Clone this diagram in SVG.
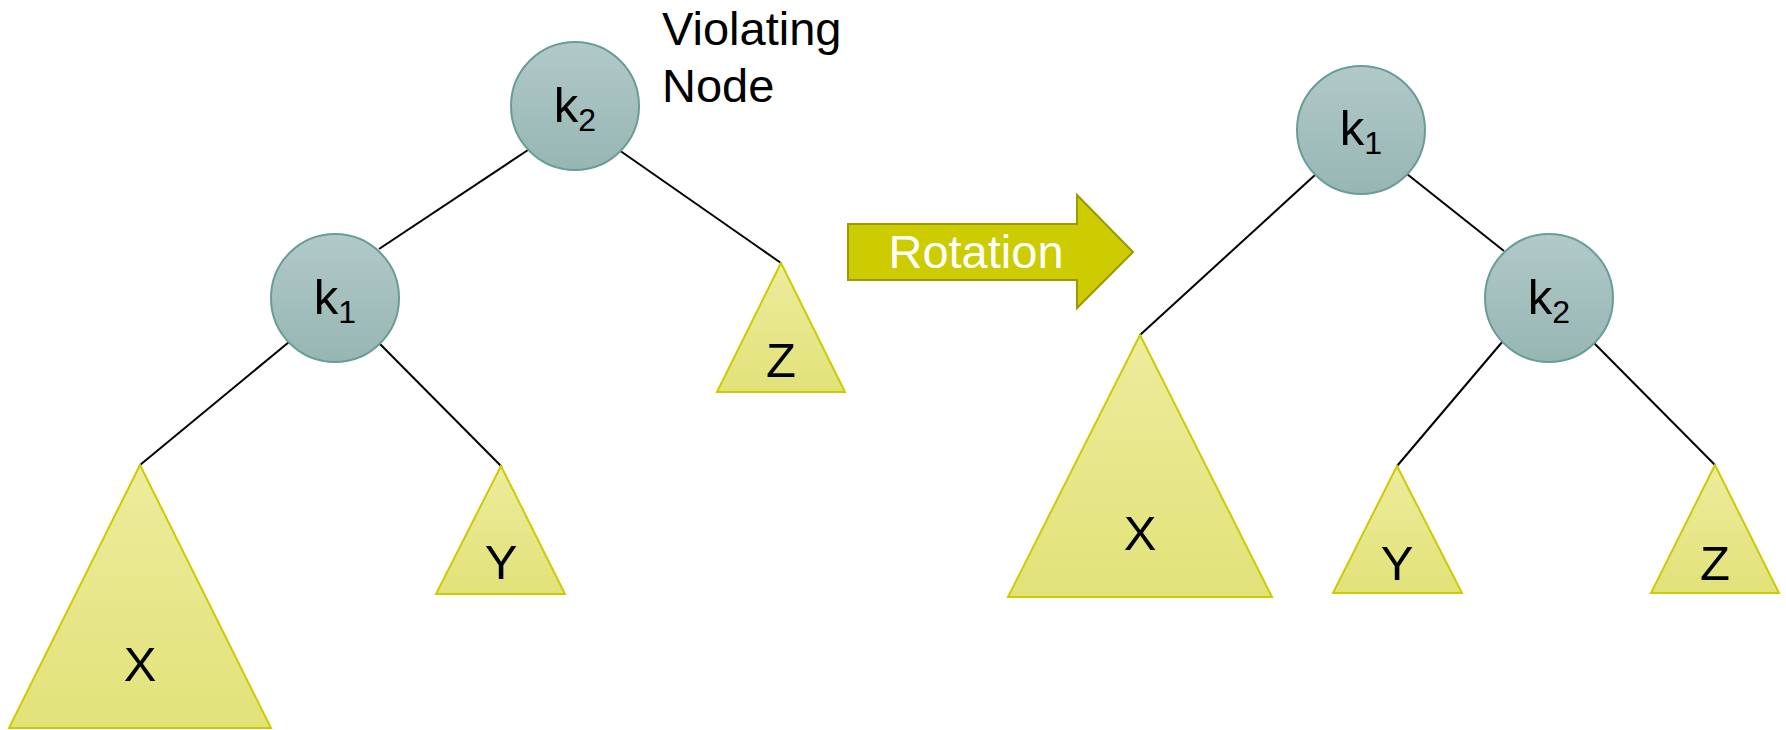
<svg xmlns="http://www.w3.org/2000/svg" width="1786" height="730" viewBox="0 0 1786 730">
  <defs>
    <linearGradient id="nodeFill" x1="0" y1="0" x2="0" y2="1">
      <stop offset="0" stop-color="#b1c9c9"/>
      <stop offset="1" stop-color="#96b6b4"/>
    </linearGradient>
    <linearGradient id="treeFill" x1="0" y1="0" x2="0" y2="1">
      <stop offset="0" stop-color="#ecec9c"/>
      <stop offset="1" stop-color="#e2e27a"/>
    </linearGradient>
  </defs>
  <style>
    .node circle { fill: url(#nodeFill); stroke: #6a9c98; stroke-width: 2; }
    .sub polygon { fill: url(#treeFill); stroke: #cccc00; stroke-width: 2; stroke-linejoin: miter; }
    .lbl { font-family: "Liberation Sans", Arial, sans-serif; font-size: 49px; fill: #000; text-anchor: middle; }
    .idx { font-size: 32px; }
    .edge line { stroke: #000; stroke-width: 2; }
    .cap { font-family: "Liberation Sans", Arial, sans-serif; font-size: 47px; }
  </style>

  <rect width="1786" height="730" fill="#fff"/>

  <!-- edges -->
  <g id="connectors" class="edge">
    <!-- before rotation -->
    <line x1="528" y1="150" x2="379" y2="249"/>
    <line x1="619" y1="150" x2="781" y2="263"/>
    <line x1="289" y1="342" x2="140" y2="465"/>
    <line x1="379" y1="343" x2="501" y2="466"/>
    <!-- after rotation -->
    <line x1="1315" y1="175" x2="1140" y2="335"/>
    <line x1="1407" y1="174" x2="1504" y2="251"/>
    <line x1="1503" y1="341" x2="1397" y2="466"/>
    <line x1="1594" y1="343" x2="1715" y2="465"/>
  </g>

  <!-- before rotation -->
  <g id="left-k2" class="node">
    <circle cx="575" cy="106" r="64"/>
    <text class="lbl" x="575" y="122">k<tspan class="idx" dy="9">2</tspan></text>
  </g>
  <g id="left-k1" class="node">
    <circle cx="335" cy="298" r="64"/>
    <text class="lbl" x="335" y="314">k<tspan class="idx" dy="9">1</tspan></text>
  </g>
  <g id="left-X" class="sub">
    <polygon points="140,465 9,728 271,728"/>
    <text class="lbl" x="140" y="681">X</text>
  </g>
  <g id="left-Y" class="sub">
    <polygon points="501,466 436,594 565,594"/>
    <text class="lbl" x="501" y="579">Y</text>
  </g>
  <g id="left-Z" class="sub">
    <polygon points="781,263 717,392 845,392"/>
    <text class="lbl" x="781" y="377">Z</text>
  </g>
  <g id="violating-label">
    <text class="cap" x="662" y="45">Violating</text>
    <text class="cap" x="662" y="102">Node</text>
  </g>

  <!-- rotation arrow -->
  <g id="rotation-arrow">
    <polygon points="848,224 1077,224 1077,195 1133,252 1077,308 1077,280 848,280" fill="#cccc00" stroke="#999900" stroke-width="2"/>
    <text class="cap" x="976" y="268" fill="#fff" text-anchor="middle">Rotation</text>
  </g>

  <!-- after rotation -->
  <g id="right-k1" class="node">
    <circle cx="1361" cy="130" r="64"/>
    <text class="lbl" x="1361" y="145">k<tspan class="idx" dy="9">1</tspan></text>
  </g>
  <g id="right-k2" class="node">
    <circle cx="1549" cy="298" r="64"/>
    <text class="lbl" x="1549" y="314">k<tspan class="idx" dy="9">2</tspan></text>
  </g>
  <g id="right-X" class="sub">
    <polygon points="1140,335 1008,597 1272,597"/>
    <text class="lbl" x="1140" y="550">X</text>
  </g>
  <g id="right-Y" class="sub">
    <polygon points="1397,466 1333,593 1462,593"/>
    <text class="lbl" x="1397" y="580">Y</text>
  </g>
  <g id="right-Z" class="sub">
    <polygon points="1715,465 1651,593 1779,593"/>
    <text class="lbl" x="1715" y="580">Z</text>
  </g>
</svg>
